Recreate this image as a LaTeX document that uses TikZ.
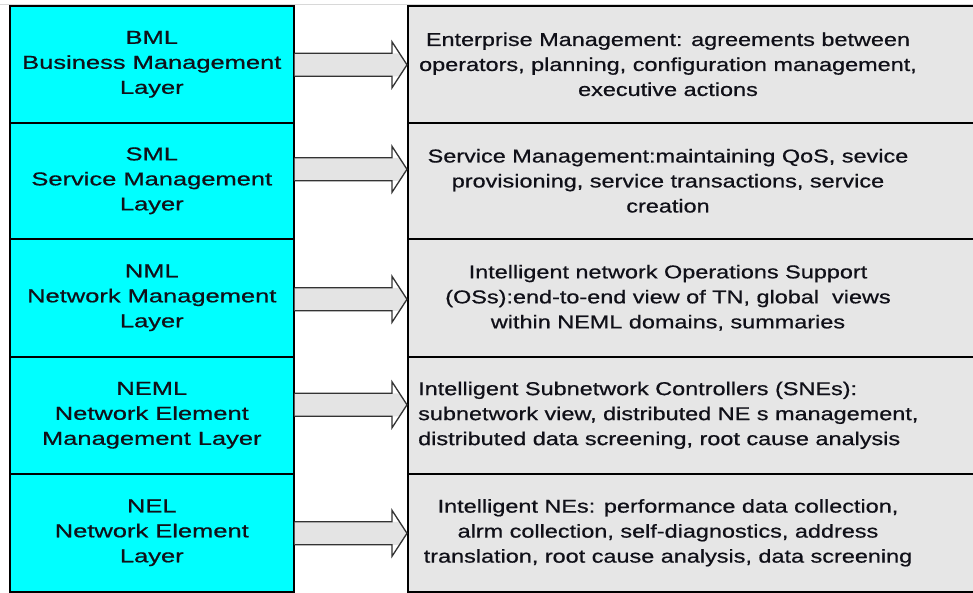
\documentclass[tikz,border=0pt]{standalone}
\usepackage{fontspec}
\setmainfont{Liberation Sans}
\newfontfamily\leftfont{Liberation Sans}[FakeStretch=1.37,FakeBold=0.7]
\newfontfamily\rightfont{Liberation Sans}[FakeStretch=1.26,FakeBold=0.7]
\usetikzlibrary{calc}
\definecolor{layercyan}{HTML}{00FFFF}
\definecolor{boxgray}{HTML}{E6E6E6}
\definecolor{arrowgray}{HTML}{E4E4E4}
\definecolor{topline}{HTML}{D8D8D8}
\definecolor{txt}{HTML}{101018}
\tikzset{
  layerbox/.style={draw=black, line width=1.6pt, fill=layercyan, minimum width=284pt,
    anchor=north west, inner sep=0pt, align=center, text=txt,
    font=\leftfont\fontsize{18.6}{25}\selectfont},
  descbox/.style={draw=black, line width=1.6pt, fill=boxgray, minimum width=580pt,
    anchor=north west, inner sep=0pt},
  desctext/.style={align=center, text=txt, inner sep=0pt,
    font=\rightfont\fontsize{18.6}{25}\selectfont},
  arrowfill/.style={fill=arrowgray, draw=none},
  arrowline/.style={draw=black!80, line width=1.3pt, line join=miter},
}
% #1 left node, #2 right node, #3 vertical offset of arrow axis from left node centre
\newcommand{\fatarrow}[3]{%
  \coordinate (ta) at ($(#1.east)+(0,#3)$);
  \coordinate (tip) at (#2.west |- ta);
  \fill[arrowgray] ($(ta)+(0,-11.5)$) -- ($(tip)+(-6.5,-11.5)$) -- (tip)
     -- ($(tip)+(-6.5,11.5)$) -- ($(ta)+(0,11.5)$) -- cycle;
  \draw[arrowline] ($(ta)+(0,-11.5)$) -- ($(tip)+(-15,-11.5)$) -- ($(tip)+(-15,-23)$)
     -- (tip) -- ($(tip)+(-15,23)$) -- ($(tip)+(-15,11.5)$) -- ($(ta)+(0,11.5)$);
}
\begin{document}
\begin{tikzpicture}[x=1pt,y=-1pt]
\useasboundingbox (0,0) rectangle (973,592);
\fill[white] (0,0) rectangle (973,592);

% right description boxes
\node[descbox, minimum height=117pt] (R1) at (407,5) {};
\node[descbox, minimum height=116pt] (R2) at (407,122) {};
\node[descbox, minimum height=118pt] (R3) at (407,238) {};
\node[descbox, minimum height=117pt] (R4) at (407,356) {};
\node[descbox, minimum height=118pt] (R5) at (407,473) {};

% left layer boxes
\node[layerbox, minimum height=117pt] (L1) at (9,5) {BML\\Business Management\\Layer};
\node[layerbox, minimum height=116pt] (L2) at (9,122) {SML\\Service Management\\Layer};
\node[layerbox, minimum height=118pt] (L3) at (9,238) {NML\\Network Management\\Layer};
\node[layerbox, minimum height=117pt] (L4) at (9,356) {NEML\\Network Element\\Management Layer};
\node[layerbox, minimum height=118pt] (L5) at (9,473) {NEL\\Network Element\\Layer};

% top edge
\draw[topline, line width=1.6pt] (0,4.5) -- (973,4.5);

% texts of the description boxes
\coordinate (cx) at (668,0);
\coordinate (lx) at (418,0);
\node[desctext] (T1) at (cx |- R1.center) {Enterprise Management: agreements between\\operators, planning, configuration management,\\executive actions};
\node[desctext] (T2) at (cx |- R2.center) {Service Management:maintaining QoS, sevice\\provisioning, service transactions, service\\creation};
\node[desctext] (T3) at (cx |- R3.center) {Intelligent network Operations Support\\(OSs):end-to-end view of TN, global\ \ views\\within NEML domains, summaries};
\node[desctext, align=left, anchor=west] (T4) at (lx |- R4.center) {Intelligent Subnetwork Controllers (SNEs):\\subnetwork view, distributed NE s management,\\distributed data screening, root cause analysis};
\node[desctext] (T5) at (cx |- R5.center) {Intelligent NEs: performance data collection,\\alrm collection, self-diagnostics, address\\translation, root cause analysis, data screening};

% block arrows
\fatarrow{L1}{R1}{0.5}
\fatarrow{L2}{R2}{-11.5}
\fatarrow{L3}{R3}{1.5}
\fatarrow{L4}{R4}{-10.5}
\fatarrow{L5}{R5}{0.5}
\end{tikzpicture}
\end{document}
